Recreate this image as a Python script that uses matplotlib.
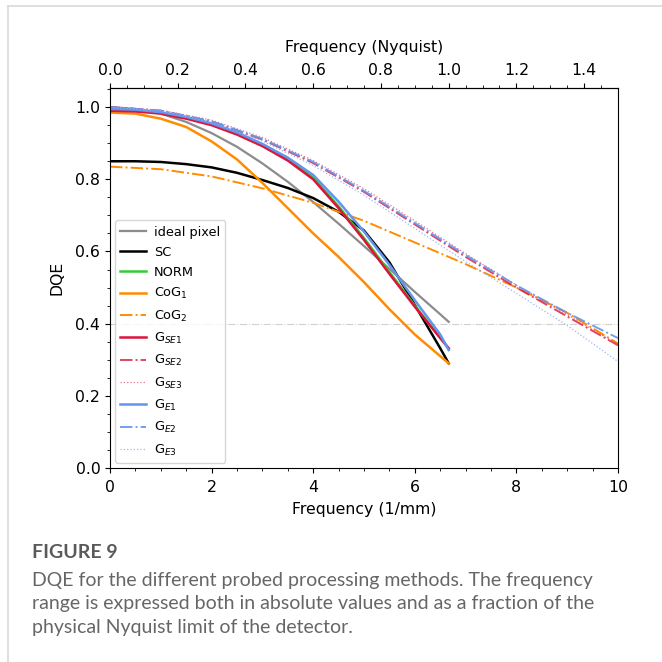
import matplotlib
matplotlib.use("Agg")
import matplotlib.pyplot as plt
from matplotlib.lines import Line2D
from matplotlib.ticker import MultipleLocator, FixedLocator

# ---- data ----
NYQ = 6.6667  # Nyquist frequency, 1/mm

f_nyq = [0, 0.5, 1, 1.5, 2, 2.5, 3, 3.5, 4, 4.5, 5, 5.5, 6, 6.5, 6.667]
ideal_pixel = [1.000, 0.995, 0.982, 0.959, 0.928, 0.890, 0.844, 0.793, 0.737,
               0.677, 0.615, 0.552, 0.488, 0.426, 0.405]
sc = [0.850, 0.850, 0.848, 0.842, 0.833, 0.818, 0.798, 0.776, 0.748, 0.710,
      0.658, 0.570, 0.452, 0.332, 0.290]
norm = [0.993, 0.991, 0.985, 0.971, 0.953, 0.927, 0.895, 0.856, 0.805, 0.725,
        0.637, 0.543, 0.450, 0.362, 0.330]
cog1 = [0.985, 0.982, 0.968, 0.945, 0.905, 0.855, 0.790, 0.720, 0.650, 0.585,
        0.515, 0.440, 0.370, 0.310, 0.290]
g_se1 = [0.990, 0.988, 0.982, 0.968, 0.950, 0.924, 0.892, 0.852, 0.800, 0.720,
         0.632, 0.538, 0.447, 0.360, 0.332]
g_e1 = [0.995, 0.993, 0.986, 0.973, 0.955, 0.930, 0.898, 0.860, 0.812, 0.738,
        0.655, 0.563, 0.465, 0.370, 0.327]

f_full = [0, 1, 2, 3, 4, 5, 6, 7, 8, 9, 10]
cog2 = [0.835, 0.828, 0.808, 0.775, 0.735, 0.685, 0.625, 0.565, 0.500, 0.430, 0.345]
g_se2 = [1.000, 0.990, 0.960, 0.910, 0.845, 0.765, 0.675, 0.585, 0.500, 0.420, 0.340]
g_se3 = [1.000, 0.992, 0.964, 0.916, 0.852, 0.774, 0.685, 0.594, 0.507, 0.425, 0.342]
g_e2 = [1.000, 0.990, 0.961, 0.912, 0.848, 0.768, 0.679, 0.590, 0.506, 0.430, 0.360]
g_e3 = [1.000, 0.990, 0.958, 0.906, 0.838, 0.756, 0.664, 0.572, 0.484, 0.395, 0.295]

labels = ["ideal pixel", "SC", "NORM", "CoG$_1$", "CoG$_2$",
          "G$_{SE1}$", "G$_{SE2}$", "G$_{SE3}$", "G$_{E1}$", "G$_{E2}$", "G$_{E3}$"]

nyq_ticks = [0.0, 0.2, 0.4, 0.6, 0.8, 1.0, 1.2, 1.4]

# ---- figure ----
fig = plt.figure(figsize=(6.62, 6.62), dpi=100)
ax = fig.add_axes([110/662, 1-468/662, (618-110)/662, (468-88)/662])

ORANGE = "#ff8c00"
CRIMSON = "#dc143c"
BLUE = "#6495ed"

ax.axhline(0.4, color="#d0d0d0", lw=0.8, ls="-.", zorder=1)

ax.plot(f_nyq, ideal_pixel, color="#8c8c8c", lw=1.6, label=labels[0])
ax.plot(f_nyq, sc, color="black", lw=1.8, label=labels[1])
ax.plot(f_nyq, norm, color="#32cd32", lw=1.8, label=labels[2])
ax.plot(f_nyq, cog1, color=ORANGE, lw=1.8, label=labels[3])
ax.plot(f_full, cog2, color=ORANGE, lw=1.4, ls="-.", label=labels[4])
ax.plot(f_nyq, g_se1, color=CRIMSON, lw=1.8, label=labels[5])
ax.plot(f_full, g_se2, color=CRIMSON, lw=1.4, ls="-.", alpha=0.8, label=labels[6])
ax.plot(f_full, g_se3, color="#e8536e", lw=0.9, ls=":", alpha=0.8, label=labels[7])
ax.plot(f_nyq, g_e1, color=BLUE, lw=1.8, label=labels[8])
ax.plot(f_full, g_e2, color=BLUE, lw=1.4, ls="-.", alpha=0.9, label=labels[9])
ax.plot(f_full, g_e3, color="#8fb0f2", lw=0.9, ls=":", alpha=0.9, label=labels[10])

ax.set_xlim(0, 10)
ax.set_ylim(0, 1.053)
ax.xaxis.set_major_locator(MultipleLocator(2))
ax.xaxis.set_minor_locator(MultipleLocator(0.5))
ax.yaxis.set_major_locator(MultipleLocator(0.2))
ax.yaxis.set_minor_locator(MultipleLocator(0.05))
ax.tick_params(labelsize=11.3)
ax.tick_params(axis="x", pad=5)
ax.set_xlabel("Frequency (1/mm)", fontsize=11.3, labelpad=5)
ax.set_ylabel("DQE", fontsize=11.3, labelpad=8)

sec = ax.secondary_xaxis("top", functions=(lambda x: x / NYQ, lambda n: n * NYQ))
sec.xaxis.set_major_locator(FixedLocator(nyq_ticks))
sec.xaxis.set_minor_locator(FixedLocator([i * 0.05 for i in range(31)]))
sec.tick_params(labelsize=11.3)
sec.set_xlabel("Frequency (Nyquist)", fontsize=11.3, labelpad=8)

ax.legend(loc="lower left", fontsize=9.3, handlelength=2.0, handletextpad=0.6,
          labelspacing=0.56, borderaxespad=0.4)

# card border and caption
fig.add_artist(Line2D([8/662, 1], [1-6/662, 1-6/662], color="#d9d9d9", lw=1.2))
fig.add_artist(Line2D([8/662, 8/662], [0, 1-6/662], color="#d9d9d9", lw=1.2))
fig.text(32/662, 1-552/662, "FIGURE 9", fontsize=14, fontweight="bold",
         color="#5a5a5a", family="Lato", va="center")
cap = ("DQE for the different probed processing methods. The frequency\n"
       "range is expressed both in absolute values and as a fraction of the\n"
       "physical Nyquist limit of the detector.")
fig.text(32/662, 1-572/662, cap, fontsize=14, color="#666666", family="Lato",
         va="top", linespacing=1.46)

fig.savefig("out.png", dpi=100)
